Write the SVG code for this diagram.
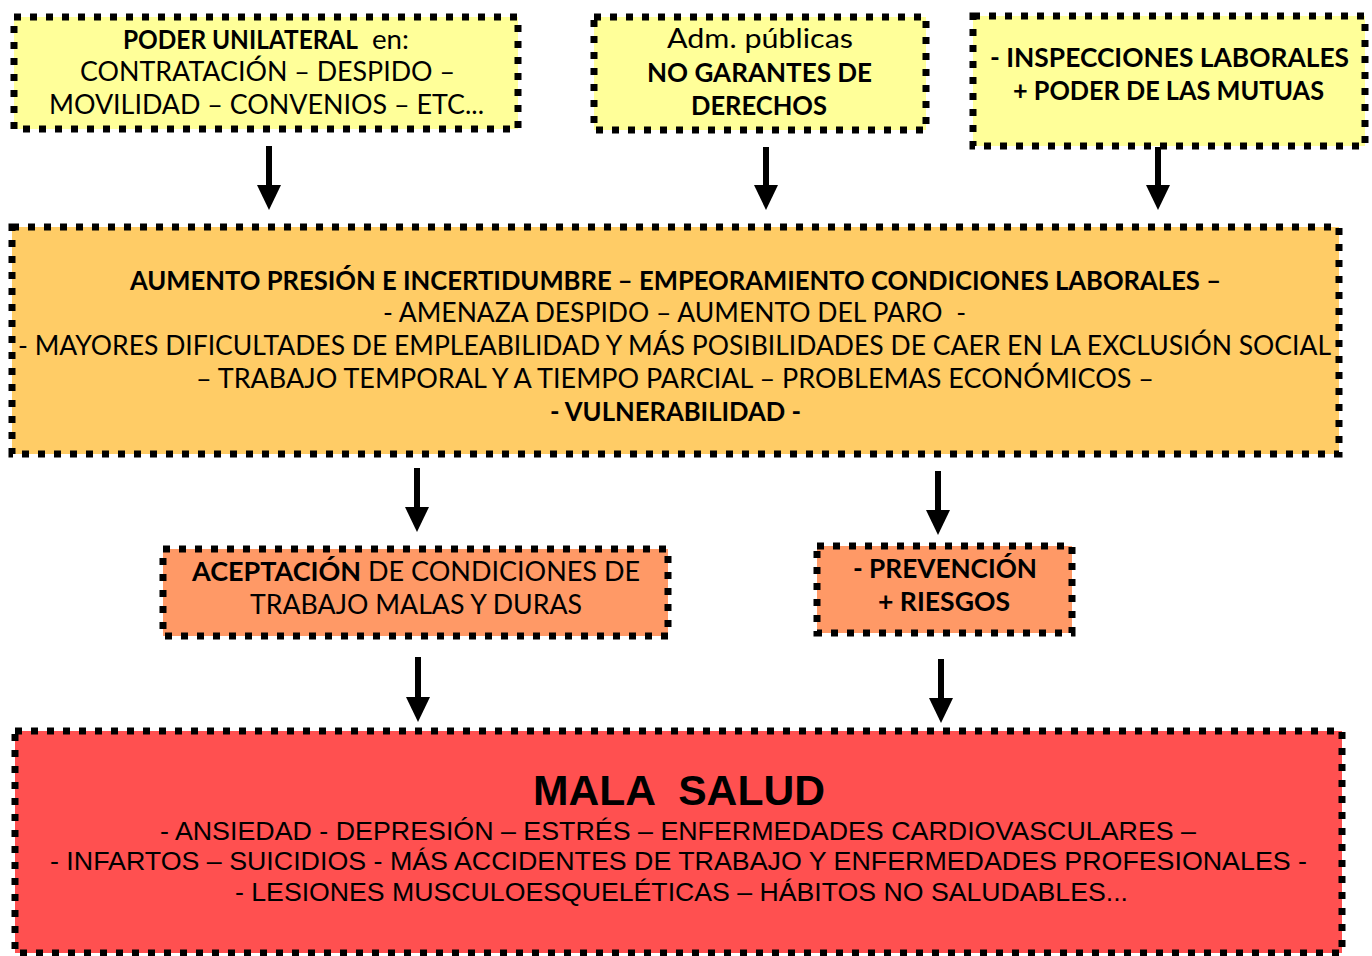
<svg xmlns="http://www.w3.org/2000/svg" width="1372" height="956" viewBox="0 0 1372 956">
<style>
.box{stroke:#000;stroke-width:7;stroke-dasharray:7 9}
.y{fill:#FFFF99}.o{fill:#FFCC66}.s{fill:#FF9966}.r{fill:#FF5050}
.g{font-family:Lato,"Open Sans","DejaVu Sans",sans-serif;font-size:26px;fill:#000}
.b{font-weight:bold}
.a{font-family:"Liberation Sans",Arial,sans-serif;font-size:26px;fill:#000}
.big{font-size:42px;font-weight:bold}
.arr{stroke:#000;stroke-width:6;fill:none;marker-end:url(#ah)}
</style>
<defs>
<marker id="ah" viewBox="0 0 25 24" refX="1" refY="12" markerWidth="25" markerHeight="24" markerUnits="userSpaceOnUse" orient="auto">
<path d="M0,0 L25,12 L0,24 Z" fill="#000"/>
</marker>
</defs>
<rect width="1372" height="956" fill="#fff"/>

<g id="connectors">
<line class="arr" x1="269" y1="146" x2="269" y2="186"/>
<line class="arr" x1="766" y1="147" x2="766" y2="186"/>
<line class="arr" x1="1158" y1="147" x2="1158" y2="186"/>
<line class="arr" x1="417" y1="468" x2="417" y2="508"/>
<line class="arr" x1="938" y1="471" x2="938" y2="511"/>
<line class="arr" x1="418" y1="657" x2="418" y2="698"/>
<line class="arr" x1="941" y1="659" x2="941" y2="699"/>
</g>

<g id="n1">
<rect class="box y" x="14" y="17" width="504" height="112"/>
<text class="g b" x="123" y="49" textLength="235" lengthAdjust="spacingAndGlyphs">PODER UNILATERAL</text>
<text class="g" x="372" y="49" textLength="37" lengthAdjust="spacingAndGlyphs">en:</text>
<text class="g" x="80" y="81" textLength="375" lengthAdjust="spacingAndGlyphs">CONTRATACIÓN – DESPIDO –</text>
<text class="g" x="49" y="114" textLength="435" lengthAdjust="spacingAndGlyphs">MOVILIDAD – CONVENIOS – ETC...</text>
</g>

<g id="n2">
<rect class="box y" x="594" y="17" width="332" height="113"/>
<text class="g" x="667" y="48" textLength="186" lengthAdjust="spacingAndGlyphs">Adm. públicas</text>
<text class="g b" x="647" y="82" textLength="225" lengthAdjust="spacingAndGlyphs">NO GARANTES DE</text>
<text class="g b" x="691" y="115" textLength="136" lengthAdjust="spacingAndGlyphs">DERECHOS</text>
</g>

<g id="n3">
<rect class="box y" x="973" y="16" width="392" height="130"/>
<text class="g b" x="990" y="67" textLength="359" lengthAdjust="spacingAndGlyphs">- INSPECCIONES LABORALES</text>
<text class="g b" x="1013" y="100" textLength="311" lengthAdjust="spacingAndGlyphs">+ PODER DE LAS MUTUAS</text>
</g>

<g id="n4">
<rect class="box o" x="12" y="227" width="1327" height="227"/>
<text class="g b" x="130" y="290" textLength="1091" lengthAdjust="spacingAndGlyphs">AUMENTO PRESIÓN E INCERTIDUMBRE – EMPEORAMIENTO CONDICIONES LABORALES –</text>
<text class="g" x="383" y="322" textLength="583" lengthAdjust="spacingAndGlyphs" xml:space="preserve">- AMENAZA DESPIDO – AUMENTO DEL PARO  -</text>
<text class="g" x="18" y="355" textLength="1313" lengthAdjust="spacingAndGlyphs">- MAYORES DIFICULTADES DE EMPLEABILIDAD Y MÁS POSIBILIDADES DE CAER EN LA EXCLUSIÓN SOCIAL</text>
<text class="g" x="196" y="388" textLength="958" lengthAdjust="spacingAndGlyphs">– TRABAJO TEMPORAL Y A TIEMPO PARCIAL – PROBLEMAS ECONÓMICOS –</text>
<text class="g b" x="550" y="421" textLength="251" lengthAdjust="spacingAndGlyphs">- VULNERABILIDAD -</text>
</g>

<g id="n5">
<rect class="box s" x="163" y="549" width="505" height="87"/>
<text class="g" x="192" y="581" textLength="448" lengthAdjust="spacingAndGlyphs"><tspan class="b">ACEPTACIÓN</tspan> DE CONDICIONES DE</text>
<text class="g" x="250" y="614" textLength="332" lengthAdjust="spacingAndGlyphs">TRABAJO MALAS Y DURAS</text>
</g>

<g id="n6">
<rect class="box s" x="817" y="546" width="255" height="87"/>
<text class="g b" x="853" y="578" textLength="184" lengthAdjust="spacingAndGlyphs">- PREVENCIÓN</text>
<text class="g b" x="878" y="611" textLength="132" lengthAdjust="spacingAndGlyphs">+ RIESGOS</text>
</g>

<g id="n7">
<rect class="box r" x="15" y="731" width="1327" height="222"/>
<text class="a big" x="533" y="805" textLength="292" lengthAdjust="spacingAndGlyphs" xml:space="preserve">MALA  SALUD</text>
<text class="a" x="160" y="840" textLength="1036" lengthAdjust="spacingAndGlyphs">- ANSIEDAD - DEPRESIÓN – ESTRÉS – ENFERMEDADES CARDIOVASCULARES –</text>
<text class="a" x="50" y="870" textLength="1257" lengthAdjust="spacingAndGlyphs">- INFARTOS – SUICIDIOS - MÁS ACCIDENTES DE TRABAJO Y ENFERMEDADES PROFESIONALES -</text>
<text class="a" x="235" y="901" textLength="893" lengthAdjust="spacingAndGlyphs">- LESIONES MUSCULOESQUELÉTICAS – HÁBITOS NO SALUDABLES...</text>
</g>
</svg>
